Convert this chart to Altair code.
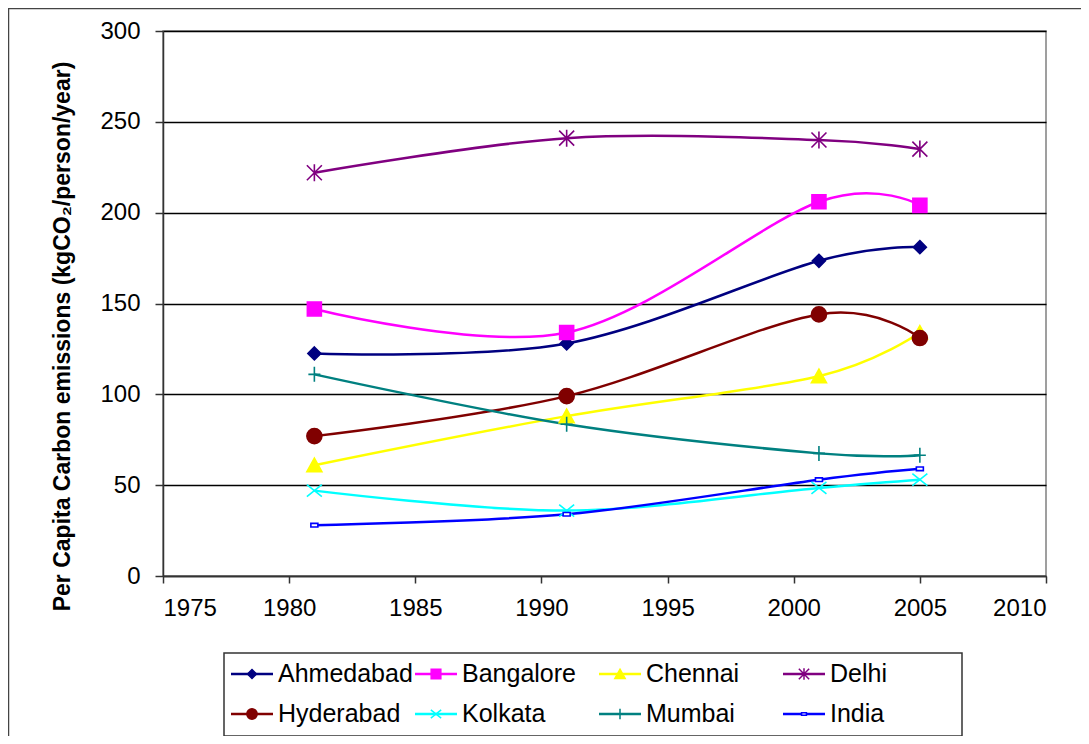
import altair as alt
import pandas as pd

# ---------------- data ----------------
cities = ["Ahmedabad", "Bangalore", "Chennai", "Delhi",
          "Hyderabad", "Kolkata", "Mumbai", "India"]
years = [1981, 1991, 2001, 2005]

ahmedabad = [122.5, 128, 173.5, 181]
bangalore = [147, 134, 206, 204]
chennai = [61, 88, 110, 134]
delhi = [222, 241, 240, 235]
hyderabad = [77, 99, 144, 131]
kolkata = [47, 36, 48.5, 53]
mumbai = [111, 83.5, 67.5, 66.5]
india = [28, 34, 53, 59]

series = [ahmedabad, bangalore, chennai, delhi, hyderabad, kolkata, mumbai, india]

colors = ["#000080", "#FF00FF", "#FFFF00", "#800080",
          "#800000", "#00FFFF", "#008080", "#0000FF"]
fills = ["#000080", "#FF00FF", "#FFFF00", "transparent",
         "#800000", "transparent", "transparent", "#FFFFFF"]
# marker outlines, in pixels (symbol size 4 -> scale 1)
shapes = [
    "M0,-6.5L6.5,0L0,6.5L-6.5,0Z",                           # diamond
    "M-7,-7H7V7H-7Z",                                        # square
    "M0,-7L7.5,6.5H-7.5Z",                                   # triangle
    "M0,-8.5V8.5M-7.5,-7.5L7.5,7.5M-7.5,7.5L7.5,-7.5",       # star
    "M-7.5,0A7.5,7.5,0,1,1,7.5,0A7.5,7.5,0,1,1,-7.5,0Z",     # circle
    "M-7.5,-6L7.5,6M-7.5,6L7.5,-6",                          # x
    "M0,-7.5V7.5M-6,0H6",                                    # plus
    "M-3.5,-1.8H3.5V1.8H-3.5Z",                              # dash
]

rows = []
for c, vals in zip(cities, series):
    for yr, v in zip(years, vals):
        rows.append({"city": c, "year": yr, "value": v})
df = pd.DataFrame(rows)

FONT = "Liberation Sans"

# plot-area geometry
W, H = 883, 545

color_scale = alt.Scale(domain=cities, range=colors)
fill_scale = alt.Scale(domain=cities, range=fills)
shape_scale = alt.Scale(domain=cities, range=shapes)

x_enc = alt.X("year:Q",
              scale=alt.Scale(domain=[1975, 2010], nice=False, zero=False),
              axis=alt.Axis(values=list(range(1975, 2011, 5)), format="d",
                            title=None, grid=False, tickSize=7,
                            labelPadding=13))
y_enc = alt.Y("value:Q",
              scale=alt.Scale(domain=[0, 300], nice=False),
              axis=alt.Axis(values=list(range(0, 301, 50)), grid=True,
                            tickSize=8, labelPadding=15,
                            title="Per Capita Carbon emissions (kgCO\u2082/person/year)",
                            titleFontSize=23, titleFontWeight="bold",
                            titleAngle=270, titleX=-94, titleY=305,
                            titleAlign="center", titleBaseline="alphabetic"))

lines = alt.Chart(df).mark_line(interpolate="cardinal", strokeWidth=2.5).encode(
    x=x_enc, y=y_enc,
    color=alt.Color("city:N", scale=color_scale, legend=None),
)

points = alt.Chart(df).mark_point(size=4, strokeWidth=1.6, opacity=1).encode(
    x="year:Q", y="value:Q",
    shape=alt.Shape("city:N", scale=shape_scale, legend=None),
    fill=alt.Fill("city:N", scale=fill_scale, legend=None),
    stroke=alt.Stroke("city:N", scale=color_scale, legend=None),
)

# ---------------- manual legend ----------------
leg_rows = []
for i, c in enumerate(cities):
    col, row = i % 4, i // 4
    x0 = 68 + 184 * col
    y0 = 643 + 40 * row
    leg_rows.append({"city": c, "lx1": x0, "lx2": x0 + 42, "lm": x0 + 21,
                     "lt": x0 + 47, "ly": y0})
leg = pd.DataFrame(leg_rows)

leg_box = alt.Chart(pd.DataFrame({"a": [0]})).mark_rect(
    fill="white", stroke="#333333", strokeWidth=1.5
).encode(x=alt.value(61), x2=alt.value(799), y=alt.value(622), y2=alt.value(705))

leg_lines = alt.Chart(leg).mark_rule(strokeWidth=2.5).encode(
    x=alt.X("lx1:Q", scale=None), x2="lx2:Q",
    y=alt.Y("ly:Q", scale=None),
    color=alt.Color("city:N", scale=color_scale, legend=None),
)
leg_pts = alt.Chart(leg).mark_point(size=1.9, strokeWidth=1.5, opacity=1).encode(
    x=alt.X("lm:Q", scale=None), y=alt.Y("ly:Q", scale=None),
    shape=alt.Shape("city:N", scale=shape_scale, legend=None),
    fill=alt.Fill("city:N", scale=fill_scale, legend=None),
    stroke=alt.Stroke("city:N", scale=color_scale, legend=None),
)
leg_text = alt.Chart(leg).mark_text(
    align="left", baseline="middle", fontSize=25, font=FONT, color="black"
).encode(
    x=alt.X("lt:Q", scale=None), y=alt.Y("ly:Q", scale=None), text="city:N"
)

# outer frame of the figure
frame = alt.Chart(pd.DataFrame({"a": [0]})).mark_rect(
    fill="transparent", stroke="#444444", strokeWidth=1.5
).encode(x=alt.value(-154.5), x2=alt.value(1200), y=alt.value(-22.5), y2=alt.value(1200))

chart = alt.layer(frame, lines, points, leg_box, leg_lines, leg_pts, leg_text).properties(
    width=W, height=H,
    autosize=alt.AutoSizeParams(type="none"),
    padding={"left": 155, "top": 23, "right": 35, "bottom": 160},
    background="white",
).configure_view(
    stroke="#808080", strokeWidth=1.5
).configure_axis(
    labelFont=FONT, titleFont=FONT, labelFontSize=24, labelColor="black",
    titleColor="black", domainColor="#333333", domainWidth=1.5,
    tickColor="#333333", tickWidth=1.5, gridColor="black", gridWidth=1.5,
    gridOpacity=1,
)

chart.save("out.html", embed_options={"renderer": "svg", "actions": False})
